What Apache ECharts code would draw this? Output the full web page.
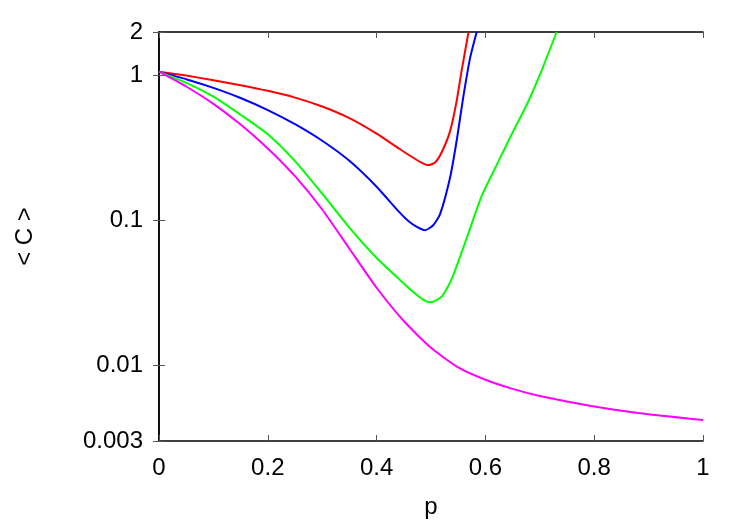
<!DOCTYPE html>
<html>
<head>
<meta charset="utf-8">
<script src="https://cdn.jsdelivr.net/npm/echarts@6/dist/echarts.min.js"></script>
<style>
  html, body { margin: 0; padding: 0; background: #fff; }
  #chart { width: 750px; height: 525px; }
</style>
</head>
<body>
<div id="chart"></div>
<script>
// [p, <C>] pairs
const redData = [
  [0, 1.065], [0.05, 1.0], [0.1, 0.929], [0.15, 0.859], [0.2, 0.785],
  [0.25, 0.705], [0.3, 0.612], [0.35, 0.509], [0.4, 0.398], [0.44, 0.316],
  [0.46, 0.282], [0.48, 0.254], [0.495, 0.241], [0.507, 0.25], [0.519, 0.292],
  [0.535, 0.412], [0.547, 0.663], [0.556, 1.065], [0.569, 2.0]
]
const blueData = [
  [0, 1.065], [0.05, 0.944], [0.1, 0.822], [0.15, 0.70], [0.2, 0.578],
  [0.25, 0.462], [0.3, 0.355], [0.35, 0.258], [0.4, 0.171], [0.44, 0.116],
  [0.46, 0.098], [0.475, 0.090], [0.489, 0.0856], [0.504, 0.0927],
  [0.5165, 0.11], [0.535, 0.197], [0.547, 0.352], [0.559, 0.698],
  [0.5717, 1.315], [0.584, 2.0]
]
const greenData = [
  [0, 1.065], [0.05, 0.891], [0.1, 0.716], [0.15, 0.537], [0.2, 0.394],
  [0.25, 0.257], [0.3, 0.153], [0.35, 0.0891], [0.4, 0.055], [0.44, 0.0398],
  [0.4675, 0.032], [0.486, 0.0283], [0.4994, 0.0272], [0.52, 0.0299],
  [0.538, 0.0394], [0.566, 0.0762], [0.593, 0.147], [0.621, 0.243],
  [0.651, 0.412], [0.676, 0.629], [0.70, 1.01], [0.731, 2.0]
]
const magentaData = [
  [0, 1.065], [0.05, 0.841], [0.1, 0.638], [0.15, 0.459], [0.2, 0.314],
  [0.25, 0.202], [0.3, 0.119], [0.35, 0.0638], [0.4, 0.0343], [0.45, 0.0202],
  [0.5, 0.0132], [0.55, 0.00966], [0.6, 0.00794], [0.65, 0.00687],
  [0.7, 0.00614], [0.8, 0.0052], [0.9, 0.00459], [1.0, 0.00419]
]

const seriesColors = ['#ff0000', '#0000ff', '#00ff00', '#ff00ff']
const seriesList = [redData, blueData, greenData, magentaData]

const chart = echarts.init(document.getElementById('chart'))

const fontFamily = '"Liberation Sans", Arial, sans-serif'
const tickStyle = { color: '#555', width: 1 }

const option = {
  animation: false,
  backgroundColor: '#fff',
  grid: { left: 159, right: 47, top: 32, bottom: 84 },
  xAxis: [{
    type: 'value',
    min: 0,
    max: 1,
    interval: 0.2,
    name: 'p',
    nameLocation: 'middle',
    nameGap: 54,
    nameTextStyle: { fontSize: 24, color: '#000', fontFamily },
    axisLine: { show: true, lineStyle: { color: '#000', width: 1.5 } },
    axisTick: { inside: true, length: 6, lineStyle: tickStyle },
    axisLabel: {
      fontSize: 24, color: '#000', fontFamily, margin: 15,
      formatter: v => String(+v.toFixed(1))
    },
    splitLine: { show: false }
  }, {
    type: 'value',
    position: 'top',
    min: 0,
    max: 1,
    interval: 0.2,
    axisLine: { show: true, lineStyle: { color: '#000', width: 1.5 } },
    axisTick: { inside: true, length: 6, lineStyle: tickStyle },
    axisLabel: { show: false },
    splitLine: { show: false }
  }],
  yAxis: [{
    type: 'log',
    logBase: 10,
    min: 0.003,
    max: 2,
    name: '< C >',
    nameLocation: 'middle',
    nameRotate: 90,
    nameGap: 122,
    nameTextStyle: { fontSize: 24, color: '#000', fontFamily },
    axisLine: { show: true, lineStyle: { color: '#000', width: 1.5 } },
    axisTick: { inside: true, length: 6, lineStyle: tickStyle },
    minorTick: { show: false },
    axisLabel: {
      fontSize: 24, color: '#000', fontFamily, margin: 16,
      formatter: v => String(parseFloat(v.toPrecision(4)))
    },
    splitLine: { show: false }
  }, {
    type: 'log',
    logBase: 10,
    min: 0.003,
    max: 2,
    position: 'right',
    axisLine: { show: true, lineStyle: { color: '#000', width: 1.5 } },
    axisTick: { inside: true, length: 6, lineStyle: tickStyle },
    axisLabel: { show: false },
    splitLine: { show: false }
  }],
  series: seriesList.map((data, i) => ({
    type: 'line',
    data: data,
    xAxisIndex: 0,
    yAxisIndex: 0,
    smooth: 0.2,
    showSymbol: false,
    symbol: 'none',
    clip: true,
    lineStyle: { color: seriesColors[i], width: 2 },
    z: 3 + i
  }))
}

chart.setOption(option)
</script>
</body>
</html>
